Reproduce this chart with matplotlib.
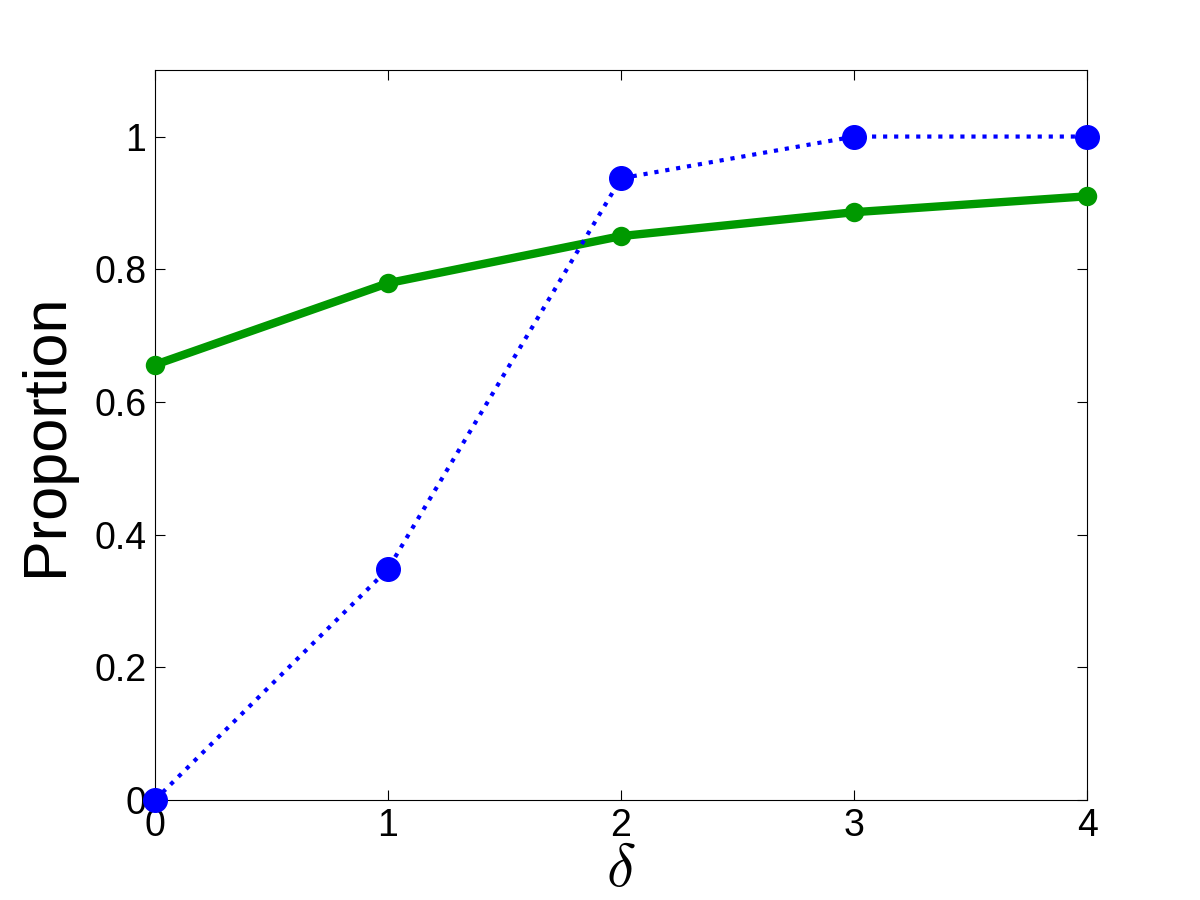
import matplotlib
matplotlib.use('Agg')
import matplotlib.pyplot as plt

delta = [0, 1, 2, 3, 4]
blue_vals = [0.0, 0.348, 0.937, 1.0, 1.0]
green_vals = [0.656, 0.779, 0.850, 0.886, 0.910]
xticks = [0, 1, 2, 3, 4]
yticks = [0, 0.2, 0.4, 0.6, 0.8, 1.0]
ytick_labels = ['0', '0.2', '0.4', '0.6', '0.8', '1']

plt.rcParams['font.family'] = ['Liberation Sans', 'DejaVu Sans']
plt.rcParams['mathtext.fontset'] = 'cm'

fig = plt.figure(figsize=(12, 9), dpi=100)
ax = fig.add_axes([0.129, 0.111, 0.777, 0.811])

ax.plot(delta, green_vals, color='#009900', linewidth=6, marker='o',
        markersize=8, markeredgewidth=6, markerfacecolor='none',
        markeredgecolor='#009900', clip_on=False, zorder=3)
ax.plot(delta, blue_vals, color='#0000ff', linewidth=3, linestyle=':',
        marker='o', markersize=17, markerfacecolor='#0000ff',
        markeredgecolor='#0000ff', clip_on=False, zorder=4)

ax.set_xlim(0, 4)
ax.set_ylim(0, 1.1)
ax.set_xticks(xticks)
ax.set_yticks(yticks)
ax.set_yticklabels(ytick_labels)
ax.tick_params(direction='in', length=7, width=0.8, top=True, right=True,
               labelsize=27, pad=6)
for s in ax.spines.values():
    s.set_linewidth(0.8)

ax.set_ylabel('Proportion', fontsize=44, labelpad=14)
ax.set_xlabel(r'$\delta$', fontsize=44, labelpad=-2)

fig.savefig('out.png', dpi=100)
